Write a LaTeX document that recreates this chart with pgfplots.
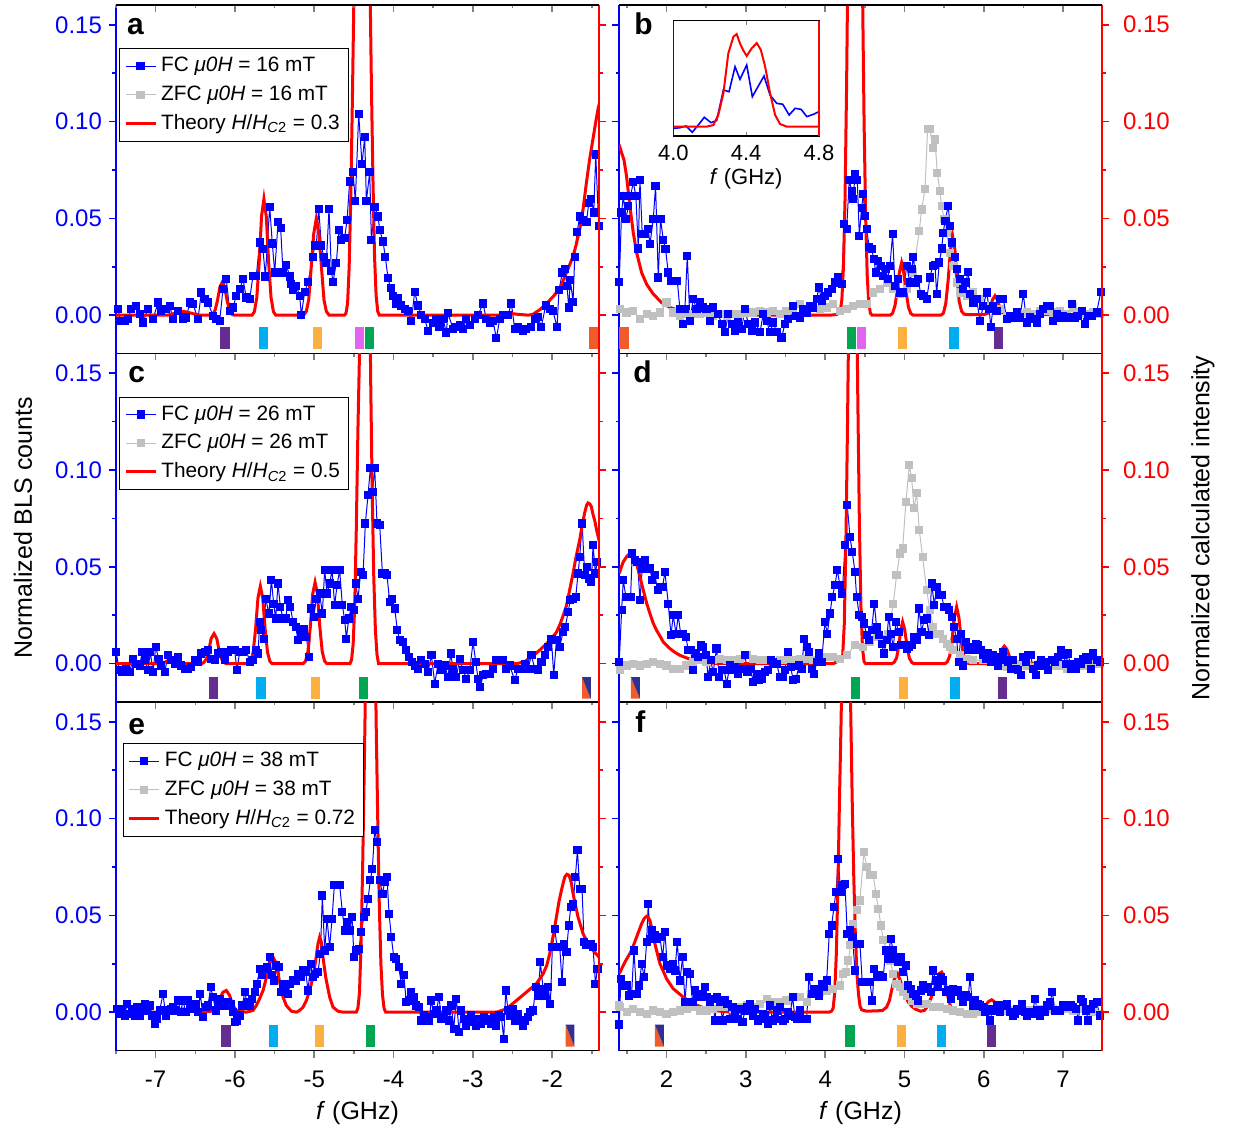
\documentclass[border=0pt]{standalone}
\usepackage{pgfplots}
\pgfplotsset{compat=1.18}
\usepackage{fontspec}
\setmainfont{Liberation Sans}
\definecolor{cpurple}{HTML}{662D91}
\definecolor{ccyan}{HTML}{00AEEF}
\definecolor{corange}{HTML}{FBB040}
\definecolor{cmagenta}{HTML}{E066F0}
\definecolor{cgreen}{HTML}{00A651}
\definecolor{credor}{HTML}{F15A29}
\definecolor{cnavy}{HTML}{2E3192}
\definecolor{cgrey}{HTML}{C0C0C0}
\tikzset{
  fc/.style={draw=blue, line width=0.5pt, mark=square*, mark size=1.8pt, mark options={fill=blue, draw=blue, solid}},
  zfc/.style={draw=cgrey, line width=0.5pt, mark=square*, mark size=1.8pt, mark options={fill=cgrey, draw=cgrey, solid}},
  th/.style={draw=red, line width=1.5pt},
}
\pgfplotsset{
  base/.style={
    scale only axis, width=241.5pt, height=174.25pt,
    ymin=-0.0198, ymax=0.1602,
    ytick={0,0.05,0.1,0.15}, minor ytick={0.025,0.075,0.125},
    tick align=outside, major tick length=3.5pt, minor tick length=1.75pt,
    scaled y ticks=false,
    /pgf/number format/assume math mode=true,
    yticklabel style={/pgf/number format/fixed,/pgf/number format/fixed zerofill,/pgf/number format/precision=2},
    tick label style={font=\fontsize{12}{14}\selectfont},
    axis line style={line width=0.8pt},
    tick style={line width=0.8pt},
    clip=true,
  },
  leftx/.style={xmin=-7.5, xmax=-1.41, xtick={-7,-6,-5,-4,-3,-2}, minor xtick={-7.5,-6.5,-5.5,-4.5,-3.5,-2.5,-1.5}},
  rightx/.style={xmin=1.4, xmax=7.49, xtick={2,3,4,5,6,7}, minor xtick={1.5,2.5,3.5,4.5,5.5,6.5}},
  mainax/.style={base, axis x line*=bottom, axis y line*=left, y axis line style={blue}, ytick style={blue}, yticklabel style={blue}, xticklabel style={yshift=-3pt}, xlabel style={font=\fontsize{12.5}{14}\selectfont}},
  overax/.style={base, axis x line=none, axis y line*=right, y axis line style={red}, ytick style={red}, yticklabel style={red, xshift=3.5pt}},
  topax/.style={base, axis x line*=top, axis y line=none, tick align=inside, xticklabels={}},
  leg/.style={legend style={at={(#1)}, anchor=north west, draw=black, line width=0.5pt, fill=white, font=\fontsize{10.4}{12.6}\selectfont, inner sep=2.3pt, row sep=1.5pt},
    legend cell align=left,
    legend image code/.code={\draw[mark repeat=2,mark phase=2,##1] plot coordinates {(0pt,0pt) (7.5pt,0pt) (15pt,0pt)};}},
}
\newcommand{\pbar}[5]{\addplot[fill=#1, draw=none, forget plot] coordinates {(#2,#4) (#3,#4) (#3,#5) (#2,#5)};}
\newcommand{\sbar}[4]{\addplot[fill=credor, draw=none, forget plot] coordinates {(#1,#4) (#1,#3) (#2,#3)};
\addplot[fill=cnavy, draw=none, forget plot] coordinates {(#1,#4) (#2,#4) (#2,#3)};}
\begin{document}
\begin{tikzpicture}
\useasboundingbox (0,0) rectangle (618pt,-563.5pt);
%%%%%%%%%%%%%%%%%%%% panel a
\begin{axis}[mainax, leftx, at={(58pt,-2.5pt)}, anchor=north west, xticklabels={}, leg={0.0062,0.8758}]
\pbar{cpurple}{-6.193}{-6.067}{-0.0175}{-0.0063}
\pbar{ccyan}{-5.697}{-5.583}{-0.0175}{-0.0063}
\pbar{corange}{-5.016}{-4.898}{-0.0175}{-0.0063}
\pbar{cmagenta}{-4.490}{-4.373}{-0.0175}{-0.0063}
\pbar{cgreen}{-4.364}{-4.251}{-0.0175}{-0.0063}
\pbar{credor}{-1.540}{-1.422}{-0.0175}{-0.0063}
\addlegendimage{fc}\addlegendentry{FC \textit{μ0H} = 16 mT}
\addlegendimage{zfc}\addlegendentry{ZFC \textit{μ0H} = 16 mT}
\addlegendimage{th}\addlegendentry{Theory \textit{H}/\textit{H}\textsubscript{\textit{C}2} = 0.3}
\addplot[fc, forget plot] table {
-7.475 0.0031
-7.445 -0.0029
-7.391 -0.0029
-7.349 -0.0020
-7.307 0.0031
-7.244 0.0048
-7.202 0.0005
-7.160 -0.0038
-7.097 0.0031
-7.033 -0.0020
-6.970 0.0065
-6.928 0.0023
-6.865 0.0031
-6.823 0.0048
-6.781 -0.0020
-6.718 0.0023
-6.655 -0.0020
-6.613 -0.0012
-6.571 0.0065
-6.529 0.0057
-6.466 -0.0020
-6.424 0.0117
-6.382 0.0083
-6.340 0.0065
-6.277 -0.0003
-6.235 -0.0020
-6.193 -0.0029
-6.151 0.0134
-6.109 0.0186
-6.067 0.0023
-6.025 0.0040
-5.983 0.0100
-5.941 0.0134
-5.899 0.0186
-5.857 0.0091
-5.815 0.0083
-5.773 0.0203
-5.731 0.0203
-5.689 0.0375
-5.647 0.0340
-5.617 0.0200
-5.562 0.0560
-5.529 0.0370
-5.499 0.0220
-5.457 0.0480
-5.424 0.0450
-5.394 0.0220
-5.352 0.0260
-5.310 0.0200
-5.290 0.0160
-5.268 0.0130
-5.226 0.0150
-5.184 0.0100
-5.163 0.0000
-5.121 0.0120
-5.079 0.0170
-5.016 0.0300
-4.995 0.0360
-4.974 0.0360
-4.944 0.0550
-4.911 0.0360
-4.881 0.0300
-4.848 0.0270
-4.814 0.0550
-4.785 0.0230
-4.764 0.0170
-4.722 0.0270
-4.688 0.0440
-4.659 0.0390
-4.617 0.0400
-4.587 0.0490
-4.554 0.0690
-4.512 0.0740
-4.482 0.0590
-4.440 0.1040
-4.398 0.0780
-4.364 0.0920
-4.343 0.0590
-4.301 0.0740
-4.280 0.0390
-4.238 0.0560
-4.196 0.0510
-4.175 0.0440
-4.133 0.0380
-4.104 0.0300
-4.070 0.0190
-4.037 0.0140
-4.007 0.0100
-3.974 0.0060
-3.944 0.0090
-3.902 0.0050
-3.860 0.0030
-3.818 0.0020
-3.776 -0.0030
-3.734 0.0120
-3.692 0.0050
-3.650 0.0000
-3.608 -0.0020
-3.566 -0.0080
-3.503 -0.0040
-3.460 -0.0020
-3.420 -0.0060
-3.377 -0.0020
-3.335 -0.0090
-3.314 0.0010
-3.251 -0.0070
-3.209 -0.0060
-3.166 -0.0050
-3.124 -0.0070
-3.082 -0.0020
-3.040 -0.0050
-2.977 -0.0020
-2.935 0.0000
-2.873 0.0060
-2.830 -0.0020
-2.788 -0.0040
-2.746 -0.0030
-2.704 -0.0120
-2.662 -0.0020
-2.620 0.0000
-2.557 0.0000
-2.515 0.0060
-2.473 -0.0070
-2.431 -0.0060
-2.368 -0.0080
-2.326 -0.0070
-2.263 -0.0060
-2.221 -0.0020
-2.179 -0.0010
-2.137 -0.0060
-2.082 0.0050
-2.032 0.0030
-1.990 0.0020
-1.939 -0.0060
-1.914 0.0130
-1.872 0.0220
-1.842 0.0240
-1.813 0.0150
-1.792 0.0040
-1.771 0.0180
-1.737 0.0070
-1.716 0.0300
-1.686 0.0430
-1.653 0.0510
-1.611 0.0490
-1.568 0.0480
-1.539 0.0580
-1.506 0.0600
-1.476 0.0530
-1.451 0.0830
-1.414 0.0460
};
\addplot[th, forget plot] table {
-7.50 0
-6.85 0
-6.75 0.0010
-6.65 0.0020
-6.55 0.0010
-6.45 0
-6.31 0
-6.28 0.0005
-6.25 0.0026
-6.22 0.0077
-6.19 0.0145
-6.16 0.0170
-6.13 0.0145
-6.10 0.0077
-6.07 0.0026
-6.04 0.0005
-6.01 0
-5.785 0
-5.755 0.0018
-5.725 0.0090
-5.695 0.0270
-5.665 0.0510
-5.635 0.0600
-5.605 0.0510
-5.575 0.0270
-5.545 0.0090
-5.515 0.0018
-5.485 0
-5.134 0
-5.100 0.0020
-5.070 0.0080
-5.040 0.0240
-5.007 0.0420
-4.974 0.0500
-4.941 0.0420
-4.908 0.0240
-4.878 0.0080
-4.848 0.0020
-4.814 0
-4.62 0
-4.60 0.001
-4.58 0.006
-4.56 0.025
-4.54 0.060
-4.52 0.110
-4.50 0.165
-4.47 0.250
-4.40 0.350
-4.33 0.300
-4.30 0.180
-4.28 0.120
-4.26 0.070
-4.24 0.030
-4.22 0.010
-4.20 0.002
-4.18 0
-2.60 0
-2.54 0.0010
-2.45 0.0005
-2.30 0
-2.24 0.0005
-2.15 0.0030
-2.07 0.0060
-1.98 0.0100
-1.90 0.0140
-1.86 0.0180
-1.82 0.0220
-1.78 0.0260
-1.74 0.0300
-1.70 0.0360
-1.65 0.0450
-1.61 0.0550
-1.57 0.0680
-1.53 0.0800
-1.49 0.0900
-1.45 0.1000
-1.42 0.1070
-1.40 0.1100
};
\end{axis}
\begin{axis}[overax, leftx, at={(58pt,-2.5pt)}, anchor=north west, yticklabels={}]
\end{axis}
\begin{axis}[topax, leftx, at={(58pt,-2.5pt)}, anchor=north west]
\end{axis}
%%%%%%%%%%%%%%%%%%%% panel b
\begin{axis}[mainax, rightx, at={(309.5pt,-2.5pt)}, anchor=north west, xticklabels={}, yticklabels={}]
\pbar{credor}{1.403}{1.525}{-0.0175}{-0.0063}
\pbar{cgreen}{4.270}{4.388}{-0.0175}{-0.0063}
\pbar{cmagenta}{4.396}{4.510}{-0.0175}{-0.0063}
\pbar{corange}{4.913}{5.031}{-0.0175}{-0.0063}
\pbar{ccyan}{5.565}{5.686}{-0.0175}{-0.0063}
\pbar{cpurple}{6.132}{6.246}{-0.0175}{-0.0063}
\addplot[zfc, forget plot] table {
1.410 0.0031
1.495 0.0014
1.580 0.0023
1.664 -0.0020
1.748 0.0005
1.832 -0.0003
1.916 0.0014
2.000 0.0065
2.084 0.0014
2.168 -0.0003
2.252 0.0005
2.336 0.0005
2.420 0.0005
2.504 0.0014
2.589 -0.0003
2.673 0.0005
2.757 -0.0003
2.841 0.0005
2.925 0.0005
3.009 0.0014
3.093 0.0014
3.177 0.0023
3.261 0.0014
3.345 0.0023
3.429 0.0005
3.513 0.0023
3.597 0.0031
3.682 0.0057
3.766 0.0031
3.850 0.0040
3.934 0.0031
4.018 0.0040
4.102 0.0057
4.186 0.0023
4.270 0.0031
4.354 0.0048
4.438 0.0057
4.522 0.0057
4.606 0.0117
4.690 0.0134
4.774 0.0169
4.858 0.0134
4.942 0.0109
5.027 0.0134
5.111 0.0220
5.186 0.0435
5.216 0.0546
5.258 0.0650
5.291 0.0960
5.321 0.0960
5.354 0.0865
5.384 0.0907
5.413 0.0736
5.447 0.0640
5.468 0.0564
5.502 0.0495
5.531 0.0426
5.573 0.0323
5.615 0.0255
5.657 0.0169
5.699 0.0117
5.783 0.0100
5.867 0.0117
5.951 0.0083
6.035 0.0048
6.119 0.0048
6.204 0.0031
6.288 -0.0003
6.372 -0.0003
6.456 0.0005
6.540 0.0014
6.624 0.0005
6.708 0.0023
6.792 0.0023
6.876 0.0014
6.960 0.0023
7.044 0.0005
7.128 0.0040
7.212 0.0014
7.296 0.0005
7.380 0.0014
7.464 0.0005
};
\addplot[fc, forget plot] table {
1.403 0.0170
1.432 0.0530
1.454 0.0615
1.487 0.0495
1.517 0.0564
1.546 0.0615
1.580 0.0687
1.613 0.0615
1.643 0.0344
1.664 0.0700
1.693 0.0420
1.727 0.0420
1.769 0.0444
1.790 0.0366
1.832 0.0495
1.861 0.0667
1.895 0.0194
1.924 0.0495
1.958 0.0390
1.987 0.0340
2.021 0.0220
2.063 0.0177
2.105 0.0177
2.135 0.0177
2.168 0.0031
2.202 -0.0046
2.231 0.0031
2.261 0.0306
2.294 -0.0029
2.336 0.0083
2.378 0.0031
2.420 0.0065
2.462 0.0040
2.504 0.0031
2.546 -0.0029
2.589 0.0040
2.652 0.0005
2.694 -0.0046
2.736 -0.0089
2.778 0.0005
2.820 -0.0046
2.862 -0.0080
2.904 -0.0038
2.946 -0.0072
2.988 0.0031
3.030 -0.0046
3.072 -0.0080
3.114 -0.0038
3.177 -0.0089
3.219 0.0005
3.261 -0.0029
3.303 -0.0089
3.345 -0.0038
3.387 -0.0089
3.450 -0.0115
3.492 -0.0046
3.534 -0.0020
3.597 0.0048
3.639 -0.0003
3.682 -0.0012
3.724 0.0031
3.766 0.0014
3.808 0.0048
3.850 0.0040
3.892 0.0083
3.921 0.0143
3.955 0.0074
3.997 0.0100
4.039 0.0117
4.081 0.0134
4.123 0.0169
4.165 0.0194
4.207 0.0160
4.240 0.0470
4.270 0.0444
4.304 0.0700
4.333 0.0640
4.354 0.0600
4.375 0.0727
4.404 0.0700
4.430 0.0410
4.459 0.0555
4.480 0.0624
4.501 0.0512
4.522 0.0444
4.556 0.0350
4.585 0.0340
4.615 0.0290
4.636 0.0220
4.669 0.0280
4.699 0.0255
4.732 0.0203
4.762 0.0237
4.787 0.0186
4.816 0.0255
4.850 0.0420
4.879 0.0151
4.913 0.0186
4.942 0.0117
4.985 0.0117
5.027 0.0255
5.069 0.0169
5.090 0.0237
5.111 0.0300
5.144 0.0169
5.174 0.0186
5.203 0.0109
5.237 0.0100
5.279 0.0083
5.321 0.0194
5.354 0.0255
5.384 0.0260
5.405 0.0109
5.439 0.0272
5.468 0.0344
5.489 0.0426
5.510 0.0487
5.552 0.0564
5.573 0.0460
5.602 0.0375
5.636 0.0300
5.666 0.0237
5.699 0.0186
5.741 0.0134
5.771 0.0169
5.804 0.0224
5.825 0.0109
5.867 0.0065
5.909 0.0083
5.951 -0.0029
5.993 0.0048
6.035 0.0117
6.069 0.0031
6.086 -0.0063
6.119 0.0048
6.162 0.0023
6.204 0.0083
6.246 0.0083
6.288 -0.0020
6.330 -0.0003
6.372 -0.0012
6.414 0.0014
6.456 -0.0012
6.498 0.0109
6.540 -0.0038
6.582 -0.0012
6.624 -0.0020
6.666 -0.0038
6.708 0.0005
6.750 0.0031
6.792 0.0048
6.834 0.0048
6.876 -0.0029
6.918 0.0005
6.960 -0.0012
7.002 -0.0003
7.044 -0.0012
7.107 0.0057
7.149 -0.0012
7.191 -0.0003
7.233 0.0023
7.275 -0.0046
7.317 -0.0003
7.359 -0.0003
7.422 0.0014
7.475 0.0120
};
\addplot[th, forget plot] table {
1.403 0.0880
1.432 0.0839
1.462 0.0804
1.495 0.0718
1.537 0.0564
1.580 0.0426
1.622 0.0323
1.685 0.0220
1.748 0.0160
1.832 0.0109
1.937 0.0065
2.042 0.0040
2.210 0.0017
2.420 0.0007
2.840 0.0002
3.260 0
4.060 0
4.144 0.0003
4.17 0.001
4.19 0.002
4.21 0.008
4.23 0.025
4.25 0.060
4.27 0.120
4.29 0.200
4.35 0.400
4.40 0.340
4.45 0.300
4.47 0.170
4.49 0.100
4.51 0.050
4.53 0.020
4.55 0.006
4.57 0.001
4.59 0
4.82 0
4.85 0.0010
4.88 0.0050
4.91 0.0130
4.935 0.0220
4.963 0.0270
4.99 0.0220
5.02 0.0120
5.05 0.0040
5.08 0.0008
5.11 0
5.46 0
5.49 0.0010
5.52 0.0060
5.55 0.0180
5.58 0.0340
5.606 0.0410
5.635 0.0340
5.66 0.0190
5.69 0.0070
5.72 0.0020
5.75 0.0005
5.80 0.0003
6.00 0.0003
6.05 0.0010
6.08 0.0040
6.11 0.0080
6.14 0.0100
6.17 0.0080
6.20 0.0040
6.23 0.0015
6.28 0.0003
6.50 0.0003
6.62 0.0018
6.75 0.0003
7.10 0.0003
7.23 0.0012
7.35 0.0003
7.50 0
};
\end{axis}
\begin{axis}[overax, rightx, at={(309.5pt,-2.5pt)}, anchor=north west]
\end{axis}
\begin{axis}[topax, rightx, at={(309.5pt,-2.5pt)}, anchor=north west]
\end{axis}
%%%%%%%%%%%%%%%%%%%% inset
\begin{axis}[scale only axis, width=72.85pt, height=57.65pt, at={(336.65pt,-10.35pt)}, anchor=north west,
  xmin=4, xmax=4.8, ymin=0, ymax=1, ytick=\empty, xtick={4,4.4,4.8}, xticklabels={4.0,4.4,4.8},
  tick align=inside, major tick length=2pt, axis line style={line width=0.8pt}, tick style={line width=0.6pt},
  tick label style={font=\fontsize{11}{13}\selectfont}, xticklabel style={yshift=-1pt},
  xlabel={\textit{f} (GHz)}, xlabel style={font=\fontsize{11}{13}\selectfont, yshift=3pt}]
\addplot[blue, line width=0.8pt] table {
4.000 0.066
4.037 0.072
4.070 0.087
4.104 0.032
4.137 0.095
4.170 0.162
4.207 0.116
4.238 0.133
4.275 0.399
4.306 0.384
4.339 0.601
4.366 0.491
4.403 0.616
4.434 0.341
4.467 0.434
4.498 0.520
4.531 0.355
4.568 0.283
4.601 0.275
4.636 0.182
4.669 0.240
4.702 0.231
4.733 0.168
4.769 0.188
4.800 0.211
};
\addplot[red, line width=1pt] table {
4.000 0.081
4.183 0.081
4.220 0.095
4.247 0.182
4.275 0.370
4.302 0.717
4.330 0.861
4.348 0.884
4.366 0.803
4.385 0.740
4.403 0.694
4.430 0.760
4.458 0.806
4.480 0.749
4.504 0.604
4.531 0.373
4.559 0.182
4.586 0.104
4.623 0.081
4.800 0.081
};
\end{axis}
\begin{axis}[scale only axis, width=72.85pt, height=57.65pt, at={(336.65pt,-10.35pt)}, anchor=north west,
  xmin=4, xmax=4.8, ymin=0, ymax=1, axis x line=none, axis y line*=left, y axis line style={blue, line width=0.8pt}, ytick=\empty]
\end{axis}
\begin{axis}[scale only axis, width=72.85pt, height=57.65pt, at={(336.65pt,-10.35pt)}, anchor=north west,
  xmin=4, xmax=4.8, ymin=0, ymax=1, axis x line=none, axis y line*=right, y axis line style={red, line width=0.8pt}, ytick=\empty]
\end{axis}
%%%%%%%%%%%%%%%%%%%% panel c
\begin{axis}[mainax, leftx, at={(58pt,-176.75pt)}, anchor=north west, xticklabels={}, leg={0.0068,0.876}]
\pbar{cpurple}{-6.327}{-6.214}{-0.0181}{-0.0069}
\pbar{ccyan}{-5.730}{-5.613}{-0.0181}{-0.0069}
\pbar{corange}{-5.041}{-4.923}{-0.0181}{-0.0069}
\pbar{cgreen}{-4.436}{-4.318}{-0.0181}{-0.0069}
\sbar{-1.624}{-1.514}{-0.0181}{-0.0069}
\addlegendimage{fc}\addlegendentry{FC \textit{μ0H} = 26 mT}
\addlegendimage{zfc}\addlegendentry{ZFC \textit{μ0H} = 26 mT}
\addlegendimage{th}\addlegendentry{Theory \textit{H}/\textit{H}\textsubscript{\textit{C}2} = 0.5}
\addplot[fc, forget plot] table {
-7.496 0.0060
-7.462 -0.0034
-7.420 -0.0043
-7.378 -0.0026
-7.328 -0.0043
-7.286 0.0026
-7.244 0.0000
-7.202 -0.0009
-7.168 0.0060
-7.130 0.0017
-7.097 -0.0034
-7.067 0.0060
-7.033 -0.0043
-7.000 0.0086
-6.962 0.0026
-6.928 -0.0009
-6.886 -0.0043
-6.844 0.0043
-6.802 0.0017
-6.760 0.0000
-6.718 0.0034
-6.676 -0.0009
-6.634 -0.0026
-6.592 -0.0026
-6.550 -0.0017
-6.508 0.0017
-6.466 0.0009
-6.424 0.0052
-6.382 0.0060
-6.340 0.0069
-6.298 0.0026
-6.256 0.0017
-6.214 0.0052
-6.172 0.0060
-6.130 0.0017
-6.088 0.0060
-6.046 0.0069
-6.004 0.0069
-5.974 -0.0034
-5.941 0.0060
-5.898 0.0060
-5.856 0.0069
-5.814 0.0009
-5.772 0.0017
-5.739 0.0069
-5.709 0.0052
-5.688 0.0216
-5.667 0.0172
-5.638 0.0129
-5.613 0.0336
-5.571 0.0259
-5.541 0.0434
-5.512 0.0310
-5.487 0.0233
-5.457 0.0414
-5.428 0.0293
-5.394 0.0233
-5.360 0.0233
-5.331 0.0328
-5.302 0.0293
-5.268 0.0216
-5.234 0.0190
-5.205 0.0121
-5.171 0.0155
-5.133 0.0181
-5.100 0.0138
-5.066 0.0034
-5.037 0.0285
-5.007 0.0241
-4.974 0.0336
-4.932 0.0362
-4.898 0.0259
-4.869 0.0483
-4.839 0.0362
-4.806 0.0414
-4.776 0.0483
-4.743 0.0302
-4.713 0.0405
-4.680 0.0483
-4.646 0.0302
-4.616 0.0224
-4.595 0.0129
-4.566 0.0233
-4.532 0.0293
-4.503 0.0276
-4.478 0.0414
-4.448 0.0336
-4.415 0.0474
-4.385 0.0457
-4.356 0.0724
-4.322 0.0871
-4.293 0.1009
-4.267 0.0888
-4.238 0.1009
-4.209 0.0724
-4.175 0.0716
-4.141 0.0466
-4.112 0.0466
-4.083 0.0457
-4.049 0.0319
-4.015 0.0336
-3.986 0.0285
-3.952 0.0172
-3.923 0.0121
-3.881 0.0112
-3.839 0.0069
-3.805 0.0034
-3.763 0.0009
-3.725 -0.0009
-3.692 -0.0026
-3.650 0.0017
-3.608 0.0000
-3.566 -0.0043
-3.523 0.0043
-3.481 -0.0103
-3.439 0.0000
-3.397 -0.0034
-3.355 -0.0009
-3.313 -0.0069
-3.280 0.0052
-3.250 -0.0026
-3.208 -0.0069
-3.166 0.0026
-3.124 -0.0034
-3.082 -0.0078
-3.040 -0.0034
-2.998 0.0112
-2.964 0.0009
-2.935 -0.0078
-2.906 -0.0121
-2.872 -0.0060
-2.830 -0.0052
-2.788 -0.0052
-2.746 -0.0026
-2.704 0.0017
-2.662 0.0017
-2.620 0.0017
-2.578 -0.0026
-2.536 -0.0009
-2.473 -0.0086
-2.431 -0.0026
-2.389 -0.0026
-2.347 0.0000
-2.305 -0.0026
-2.262 0.0043
-2.220 -0.0026
-2.178 -0.0034
-2.136 0.0009
-2.094 0.0043
-2.052 0.0086
-2.010 0.0129
-1.981 -0.0060
-1.947 0.0121
-1.905 0.0086
-1.863 0.0164
-1.834 0.0190
-1.800 0.0267
-1.771 0.0328
-1.737 0.0336
-1.703 0.0345
-1.674 0.0466
-1.653 0.0552
-1.623 0.0724
-1.590 0.0457
-1.560 0.0500
-1.535 0.0440
-1.506 0.0422
-1.485 0.0612
-1.455 0.0466
-1.434 0.0526
};
\addplot[th, forget plot] table {
-7.50 0
-6.95 0
-6.88 0.0008
-6.80 0.0026
-6.72 0.0010
-6.62 0
-6.42 0
-6.39 0.0007
-6.36 0.0025
-6.33 0.0070
-6.30 0.0130
-6.264 0.0155
-6.23 0.0130
-6.20 0.0070
-6.17 0.0025
-6.14 0.0007
-6.11 0
-5.83 0
-5.80 0.0012
-5.77 0.0060
-5.74 0.0180
-5.71 0.0340
-5.68 0.0400
-5.65 0.0340
-5.62 0.0180
-5.59 0.0060
-5.56 0.0012
-5.53 0
-5.14 0
-5.11 0.0013
-5.08 0.0063
-5.05 0.0190
-5.02 0.0360
-4.99 0.0420
-4.96 0.0360
-4.93 0.0190
-4.90 0.0063
-4.87 0.0013
-4.84 0
-4.55 0
-4.53 0.002
-4.51 0.010
-4.49 0.030
-4.47 0.070
-4.45 0.120
-4.43 0.160
-4.40 0.250
-4.36 0.350
-4.31 0.250
-4.29 0.150
-4.27 0.090
-4.25 0.045
-4.23 0.018
-4.21 0.005
-4.19 0
-2.45 0
-2.35 0.0010
-2.24 0.0040
-2.13 0.0080
-2.03 0.0120
-1.95 0.0160
-1.905 0.0200
-1.86 0.0250
-1.82 0.0300
-1.78 0.0380
-1.74 0.0460
-1.70 0.0550
-1.653 0.0640
-1.62 0.0720
-1.59 0.0780
-1.565 0.0820
-1.548 0.0830
-1.525 0.0825
-1.506 0.0810
-1.485 0.0770
-1.464 0.0740
-1.44 0.0690
-1.40 0.0620
};
\end{axis}
\begin{axis}[overax, leftx, at={(58pt,-176.75pt)}, anchor=north west, yticklabels={}]
\end{axis}
%%%%%%%%%%%%%%%%%%%% panel d
\begin{axis}[mainax, rightx, at={(309.5pt,-176.75pt)}, anchor=north west, xticklabels={}, yticklabels={}]
\sbar{1.550}{1.664}{-0.0181}{-0.0069}
\pbar{cgreen}{4.320}{4.434}{-0.0181}{-0.0069}
\pbar{corange}{4.930}{5.043}{-0.0181}{-0.0069}
\pbar{ccyan}{5.577}{5.695}{-0.0181}{-0.0069}
\pbar{cpurple}{6.183}{6.296}{-0.0181}{-0.0069}
\addplot[zfc, forget plot] table {
1.411 -0.0034
1.496 -0.0009
1.580 0.0000
1.664 -0.0009
1.748 0.0000
1.832 0.0009
1.916 0.0000
2.000 -0.0009
2.084 -0.0026
2.168 -0.0026
2.252 -0.0009
2.336 0.0009
2.420 0.0017
2.504 0.0009
2.588 0.0017
2.673 0.0026
2.757 0.0017
2.841 0.0017
2.925 0.0026
3.009 0.0043
3.093 0.0026
3.177 0.0017
3.261 0.0017
3.345 0.0009
3.429 0.0017
3.513 0.0017
3.597 0.0017
3.682 0.0026
3.766 0.0026
3.850 0.0017
3.934 0.0026
4.018 0.0034
4.102 0.0034
4.186 0.0026
4.270 0.0043
4.375 0.0095
4.480 0.0086
4.564 0.0112
4.648 0.0138
4.732 0.0129
4.795 0.0155
4.858 0.0310
4.900 0.0457
4.942 0.0569
4.976 0.0595
5.018 0.0836
5.060 0.1026
5.090 0.0957
5.119 0.0802
5.153 0.0880
5.186 0.0690
5.228 0.0552
5.279 0.0379
5.321 0.0276
5.363 0.0190
5.405 0.0155
5.447 0.0155
5.489 0.0129
5.531 0.0103
5.573 0.0086
5.615 0.0069
5.699 0.0043
5.783 0.0026
5.867 0.0017
5.993 0.0017
6.119 0.0009
6.204 -0.0009
6.288 -0.0017
6.372 -0.0009
6.456 0.0000
6.540 -0.0009
6.624 -0.0017
6.708 0.0000
6.792 0.0000
6.876 -0.0009
6.960 -0.0009
7.044 -0.0026
7.128 -0.0017
7.212 -0.0009
7.296 -0.0009
7.380 0.0000
7.464 0.0000
};
\addplot[fc, forget plot] table {
1.403 0.0009
1.433 0.0276
1.454 0.0431
1.487 0.0345
1.517 0.0345
1.546 0.0345
1.567 0.0569
1.601 0.0534
1.634 0.0526
1.664 0.0328
1.693 0.0491
1.727 0.0534
1.760 0.0491
1.790 0.0491
1.819 0.0431
1.853 0.0457
1.887 0.0379
1.916 0.0397
1.950 0.0397
1.979 0.0474
2.021 0.0310
2.055 0.0147
2.084 0.0250
2.118 0.0155
2.147 0.0250
2.177 0.0155
2.210 0.0155
2.244 0.0138
2.273 0.0069
2.303 0.0069
2.336 -0.0034
2.366 0.0052
2.399 0.0034
2.429 0.0095
2.462 0.0086
2.496 0.0043
2.525 -0.0069
2.555 0.0017
2.588 -0.0043
2.630 0.0078
2.664 -0.0069
2.694 -0.0034
2.727 -0.0034
2.757 -0.0103
2.799 -0.0009
2.832 -0.0034
2.862 -0.0017
2.904 -0.0052
2.946 -0.0026
2.988 0.0043
3.021 -0.0043
3.059 -0.0026
3.093 -0.0095
3.135 -0.0052
3.169 -0.0086
3.206 -0.0078
3.240 -0.0043
3.282 -0.0034
3.312 0.0017
3.345 0.0009
3.387 0.0000
3.429 -0.0069
3.463 -0.0069
3.492 -0.0034
3.526 0.0060
3.564 -0.0017
3.597 -0.0086
3.631 -0.0078
3.673 -0.0009
3.707 -0.0026
3.732 0.0129
3.766 0.0086
3.799 0.0060
3.829 -0.0026
3.862 -0.0052
3.892 0.0009
3.921 0.0052
3.955 0.0009
3.997 0.0216
4.026 0.0155
4.060 0.0259
4.089 0.0345
4.123 0.0405
4.152 0.0483
4.186 0.0405
4.215 0.0362
4.249 0.0612
4.278 0.0819
4.312 0.0655
4.341 0.0578
4.375 0.0474
4.396 0.0345
4.430 0.0250
4.459 0.0241
4.489 0.0207
4.522 0.0147
4.556 0.0121
4.585 0.0172
4.619 0.0310
4.648 0.0190
4.682 0.0147
4.711 0.0103
4.741 0.0052
4.774 0.0121
4.800 0.0241
4.829 0.0155
4.858 0.0086
4.892 0.0216
4.926 0.0164
4.963 0.0095
4.993 0.0095
5.027 0.0078
5.060 0.0086
5.090 0.0095
5.119 0.0138
5.153 0.0121
5.182 0.0285
5.216 0.0164
5.245 0.0224
5.279 0.0233
5.308 0.0147
5.342 0.0414
5.376 0.0302
5.405 0.0397
5.439 0.0353
5.468 0.0353
5.497 0.0293
5.531 0.0293
5.565 0.0276
5.594 0.0241
5.624 0.0190
5.657 0.0129
5.682 0.0009
5.712 0.0155
5.741 -0.0009
5.771 0.0112
5.804 0.0069
5.834 0.0086
5.867 0.0069
5.901 0.0103
5.930 0.0095
5.964 0.0069
5.993 0.0043
6.027 0.0026
6.056 0.0052
6.090 0.0009
6.119 0.0043
6.153 0.0034
6.183 -0.0009
6.216 0.0017
6.246 0.0060
6.279 0.0017
6.309 0.0009
6.342 -0.0026
6.372 0.0017
6.405 -0.0026
6.435 -0.0034
6.464 -0.0060
6.498 0.0034
6.532 0.0009
6.561 0.0043
6.590 0.0043
6.624 -0.0026
6.658 -0.0060
6.687 -0.0009
6.716 0.0017
6.750 -0.0009
6.784 0.0009
6.813 -0.0034
6.855 0.0017
6.897 0.0009
6.939 0.0034
6.969 0.0069
7.002 0.0043
7.036 0.0000
7.065 0.0052
7.095 -0.0026
7.128 0.0000
7.162 -0.0026
7.191 0.0009
7.225 0.0000
7.254 0.0026
7.288 0.0034
7.317 0.0017
7.347 -0.0026
7.380 0.0052
7.422 0.0017
7.464 0.0009
};
\addplot[th, forget plot] table {
1.403 0.0466
1.43 0.0500
1.454 0.0526
1.495 0.0552
1.537 0.0570
1.56 0.0568
1.58 0.0555
1.61 0.0530
1.643 0.0483
1.675 0.0430
1.706 0.0380
1.75 0.0310
1.79 0.0259
1.83 0.0210
1.874 0.0172
1.92 0.0140
1.958 0.0112
2.042 0.0078
2.10 0.0060
2.168 0.0043
2.25 0.0030
2.336 0.0017
2.504 0.0003
2.84 0
4.10 0
4.186 0.0017
4.20 0.002
4.22 0.004
4.24 0.020
4.26 0.060
4.28 0.120
4.30 0.190
4.35 0.350
4.39 0.220
4.41 0.140
4.43 0.075
4.45 0.030
4.47 0.008
4.49 0.001
4.51 0
4.84 0
4.87 0.0007
4.90 0.0030
4.93 0.0097
4.95 0.0170
4.976 0.0216
5.00 0.0180
5.03 0.0097
5.06 0.0030
5.09 0.0007
5.12 0
5.51 0
5.54 0.0010
5.57 0.0040
5.60 0.0130
5.63 0.0240
5.657 0.0293
5.685 0.0240
5.715 0.0130
5.745 0.0040
5.775 0.0010
5.81 0
6.12 0
6.16 0.0010
6.20 0.0040
6.23 0.0075
6.258 0.0090
6.29 0.0075
6.32 0.0040
6.36 0.0010
6.40 0
6.65 0.0002
6.79 0.0014
6.95 0.0002
7.50 0.0003
};
\end{axis}
\begin{axis}[overax, rightx, at={(309.5pt,-176.75pt)}, anchor=north west]
\end{axis}
%%%%%%%%%%%%%%%%%%%% panel e
\begin{axis}[mainax, leftx, at={(58pt,-351pt)}, anchor=north west, leg={0.0139,0.8815}, xlabel={\textit{f} (GHz)}]
\pbar{cpurple}{-6.172}{-6.054}{-0.0178}{-0.0064}
\pbar{ccyan}{-5.571}{-5.457}{-0.0178}{-0.0064}
\pbar{corange}{-4.990}{-4.877}{-0.0178}{-0.0064}
\pbar{cgreen}{-4.352}{-4.234}{-0.0178}{-0.0064}
\sbar{-1.830}{-1.720}{-0.0178}{-0.0064}
\addlegendimage{fc}\addlegendentry{FC \textit{μ0H} = 38 mT}
\addlegendimage{zfc}\addlegendentry{ZFC \textit{μ0H} = 38 mT}
\addlegendimage{th}\addlegendentry{Theory \textit{H}/\textit{H}\textsubscript{\textit{C}2} = 0.72}
\addplot[fc, forget plot] table {
-7.487 0.0017
-7.454 -0.0009
-7.420 0.0017
-7.391 -0.0017
-7.361 0.0043
-7.328 -0.0009
-7.294 0.0017
-7.265 -0.0017
-7.231 0.0026
-7.202 -0.0017
-7.168 0.0009
-7.139 0.0043
-7.105 0.0009
-7.075 0.0034
-7.042 -0.0017
-7.012 -0.0060
-6.983 -0.0034
-6.949 0.0009
-6.907 0.0095
-6.874 -0.0017
-6.844 0.0009
-6.811 0.0017
-6.781 0.0026
-6.748 0.0009
-6.718 0.0060
-6.685 0.0000
-6.655 0.0060
-6.621 0.0000
-6.592 0.0060
-6.563 0.0026
-6.529 0.0017
-6.495 0.0043
-6.466 0.0000
-6.437 0.0095
-6.403 -0.0026
-6.369 0.0026
-6.340 0.0034
-6.306 0.0129
-6.277 0.0078
-6.243 0.0009
-6.214 0.0034
-6.184 0.0069
-6.151 0.0052
-6.117 0.0034
-6.088 0.0052
-6.054 0.0043
-6.025 0.0000
-6.004 -0.0052
-5.974 -0.0043
-5.941 -0.0017
-5.907 0.0034
-5.877 0.0103
-5.848 0.0052
-5.814 0.0034
-5.785 0.0069
-5.751 0.0103
-5.722 0.0147
-5.688 0.0224
-5.659 0.0190
-5.625 0.0224
-5.592 0.0233
-5.562 0.0284
-5.533 0.0190
-5.508 0.0164
-5.478 0.0241
-5.449 0.0233
-5.423 0.0103
-5.394 0.0147
-5.365 0.0121
-5.331 0.0095
-5.302 0.0147
-5.268 0.0164
-5.234 0.0164
-5.205 0.0198
-5.171 0.0181
-5.142 0.0215
-5.108 0.0207
-5.079 0.0112
-5.045 0.0250
-5.016 0.0181
-4.986 0.0198
-4.953 0.0207
-4.923 0.0302
-4.898 0.0603
-4.869 0.0319
-4.839 0.0483
-4.806 0.0336
-4.776 0.0483
-4.747 0.0655
-4.713 0.0655
-4.680 0.0655
-4.646 0.0517
-4.616 0.0422
-4.587 0.0466
-4.554 0.0422
-4.524 0.0491
-4.499 0.0284
-4.469 0.0319
-4.436 0.0328
-4.406 0.0414
-4.377 0.0491
-4.352 0.0517
-4.322 0.0586
-4.293 0.0681
-4.268 0.0741
-4.238 0.0940
-4.209 0.0879
-4.175 0.0681
-4.141 0.0612
-4.112 0.0672
-4.083 0.0698
-4.057 0.0509
-4.028 0.0388
-3.998 0.0284
-3.965 0.0276
-3.935 0.0233
-3.902 0.0147
-3.872 0.0190
-3.839 0.0052
-3.805 0.0060
-3.776 0.0103
-3.746 0.0078
-3.713 0.0034
-3.683 0.0026
-3.650 -0.0043
-3.620 -0.0017
-3.587 -0.0026
-3.553 -0.0043
-3.524 0.0060
-3.494 -0.0009
-3.460 0.0009
-3.427 0.0078
-3.397 -0.0034
-3.368 -0.0026
-3.334 0.0009
-3.301 -0.0043
-3.271 0.0034
-3.242 -0.0086
-3.208 0.0069
-3.175 -0.0103
-3.145 0.0009
-3.116 -0.0034
-3.082 -0.0069
-3.048 -0.0052
-3.019 -0.0017
-2.990 -0.0034
-2.956 -0.0069
-2.927 -0.0034
-2.893 -0.0060
-2.864 -0.0026
-2.830 -0.0043
-2.796 -0.0034
-2.767 -0.0060
-2.737 -0.0026
-2.704 -0.0069
-2.674 -0.0017
-2.641 -0.0026
-2.611 -0.0138
-2.586 0.0112
-2.557 0.0009
-2.527 -0.0017
-2.494 0.0017
-2.464 -0.0043
-2.431 -0.0009
-2.401 -0.0043
-2.368 -0.0069
-2.338 -0.0043
-2.305 -0.0026
-2.275 0.0000
-2.241 0.0009
-2.208 0.0129
-2.178 0.0086
-2.149 0.0259
-2.115 0.0121
-2.086 0.0086
-2.052 0.0129
-2.023 0.0043
-1.998 0.0336
-1.968 0.0431
-1.939 0.0336
-1.905 0.0336
-1.876 0.0155
-1.850 0.0353
-1.821 0.0310
-1.791 0.0448
-1.766 0.0543
-1.737 0.0560
-1.708 0.0698
-1.682 0.0836
-1.653 0.0638
-1.624 0.0638
-1.598 0.0362
-1.569 0.0345
-1.539 0.0345
-1.514 0.0353
-1.485 0.0336
-1.455 0.0147
-1.430 0.0224
};
\addplot[th, forget plot] table {
-7.50 0
-6.85 0
-6.75 0.0008
-6.655 0.0017
-6.55 0.0008
-6.45 0
-6.30 0.0005
-6.235 0.0026
-6.193 0.0069
-6.151 0.0103
-6.109 0.0112
-6.067 0.0086
-6.025 0.0034
-5.983 0.0009
-5.857 0
-5.773 0.0009
-5.731 0.0034
-5.690 0.0069
-5.646 0.0112
-5.613 0.0164
-5.583 0.0216
-5.554 0.0259
-5.520 0.0284
-5.487 0.0259
-5.457 0.0198
-5.428 0.0138
-5.394 0.0078
-5.352 0.0034
-5.289 0.0005
-5.226 0
-5.184 0.0009
-5.142 0.0026
-5.100 0.0060
-5.058 0.0112
-5.016 0.0181
-4.982 0.0267
-4.953 0.0353
-4.932 0.0388
-4.911 0.0362
-4.890 0.0284
-4.856 0.0181
-4.806 0.0078
-4.764 0.0026
-4.701 0.0005
-4.638 0
-4.47 0
-4.45 0.002
-4.43 0.010
-4.41 0.035
-4.39 0.075
-4.37 0.125
-4.35 0.180
-4.29 0.350
-4.24 0.220
-4.22 0.150
-4.20 0.100
-4.18 0.055
-4.16 0.025
-4.14 0.009
-4.12 0.002
-4.10 0
-2.70 0
-2.578 0.0017
-2.452 0.0060
-2.326 0.0103
-2.200 0.0147
-2.115 0.0198
-2.070 0.0240
-2.031 0.0302
-1.990 0.0390
-1.947 0.0491
-1.915 0.0570
-1.884 0.0629
-1.860 0.0670
-1.842 0.0698
-1.815 0.0712
-1.787 0.0707
-1.760 0.0670
-1.737 0.0612
-1.700 0.0540
-1.674 0.0491
-1.640 0.0445
-1.611 0.0405
-1.580 0.0380
-1.548 0.0353
-1.485 0.0319
-1.400 0.0280
};
\end{axis}
\begin{axis}[overax, leftx, at={(58pt,-351pt)}, anchor=north west, yticklabels={}]
\end{axis}
%%%%%%%%%%%%%%%%%%%% panel f
\begin{axis}[mainax, rightx, at={(309.5pt,-351pt)}, anchor=north west, yticklabels={}, xlabel={\textit{f} (GHz)}]
\sbar{1.853}{1.966}{-0.0178}{-0.0064}
\pbar{cgreen}{4.253}{4.371}{-0.0178}{-0.0064}
\pbar{corange}{4.900}{5.018}{-0.0178}{-0.0064}
\pbar{ccyan}{5.405}{5.518}{-0.0178}{-0.0064}
\pbar{cpurple}{6.035}{6.153}{-0.0178}{-0.0064}
\addplot[zfc, forget plot] table {
1.400 0.0034
1.411 0.0026
1.496 0.0000
1.580 0.0017
1.664 0.0000
1.748 -0.0009
1.832 0.0009
1.916 0.0000
2.000 -0.0009
2.084 0.0000
2.168 0.0009
2.252 0.0017
2.336 0.0026
2.420 0.0009
2.504 0.0009
2.589 0.0017
2.673 0.0026
2.757 0.0026
2.841 0.0017
2.925 0.0026
3.009 0.0034
3.093 0.0026
3.177 0.0043
3.261 0.0069
3.345 0.0052
3.429 0.0052
3.513 0.0060
3.597 0.0078
3.682 0.0078
3.766 0.0052
3.850 0.0112
3.934 0.0103
4.018 0.0112
4.102 0.0121
4.186 0.0138
4.228 0.0198
4.261 0.0207
4.291 0.0267
4.320 0.0345
4.354 0.0457
4.396 0.0526
4.438 0.0577
4.488 0.0828
4.522 0.0750
4.564 0.0707
4.606 0.0707
4.640 0.0612
4.669 0.0534
4.703 0.0448
4.732 0.0371
4.774 0.0319
4.816 0.0267
4.858 0.0198
4.900 0.0147
4.942 0.0129
4.985 0.0103
5.027 0.0086
5.090 0.0060
5.153 0.0043
5.216 0.0043
5.279 0.0043
5.363 0.0026
5.447 0.0026
5.531 0.0017
5.615 0.0009
5.699 0.0000
5.783 -0.0009
5.867 -0.0009
5.951 0.0000
6.035 0.0000
6.119 0.0009
6.204 0.0000
6.288 0.0009
6.372 0.0009
6.456 0.0009
6.540 0.0009
6.624 0.0009
6.708 0.0017
6.792 0.0017
6.876 0.0017
6.960 0.0009
7.044 0.0017
7.128 0.0009
7.212 0.0017
7.296 0.0009
7.380 0.0000
7.464 -0.0009
};
\addplot[fc, forget plot] table {
1.403 -0.0064
1.424 0.0172
1.462 0.0138
1.496 0.0138
1.529 0.0086
1.559 0.0095
1.588 0.0319
1.622 0.0095
1.655 0.0138
1.685 0.0250
1.718 0.0181
1.748 0.0362
1.769 0.0560
1.790 0.0379
1.819 0.0422
1.853 0.0397
1.882 0.0379
1.916 0.0388
1.950 0.0284
1.979 0.0414
2.008 0.0241
2.042 0.0224
2.076 0.0250
2.105 0.0215
2.135 0.0362
2.168 0.0164
2.202 0.0284
2.231 0.0052
2.261 0.0207
2.294 0.0198
2.328 0.0052
2.357 0.0112
2.387 0.0086
2.420 0.0078
2.454 0.0095
2.483 0.0129
2.513 0.0078
2.546 0.0052
2.580 0.0069
2.610 -0.0043
2.639 0.0078
2.673 0.0052
2.706 -0.0043
2.736 0.0060
2.769 0.0043
2.799 -0.0034
2.832 0.0026
2.862 0.0009
2.891 -0.0034
2.925 0.0017
2.958 -0.0052
2.988 0.0009
3.021 0.0026
3.051 0.0043
3.085 -0.0017
3.114 0.0017
3.148 -0.0043
3.177 -0.0034
3.211 -0.0009
3.240 -0.0017
3.274 -0.0060
3.303 0.0034
3.337 -0.0043
3.366 -0.0034
3.396 0.0009
3.429 0.0026
3.463 -0.0043
3.492 -0.0034
3.526 0.0000
3.555 -0.0017
3.589 0.0078
3.618 -0.0026
3.648 -0.0034
3.682 0.0009
3.711 -0.0034
3.736 -0.0034
3.766 -0.0034
3.795 0.0181
3.829 0.0095
3.862 0.0121
3.892 0.0121
3.921 0.0086
3.955 0.0147
3.984 0.0129
4.018 0.0164
4.051 0.0405
4.081 0.0448
4.110 0.0543
4.136 0.0621
4.165 0.0793
4.194 0.0621
4.219 0.0655
4.249 0.0664
4.278 0.0405
4.312 0.0422
4.345 0.0388
4.375 0.0215
4.404 0.0353
4.438 0.0353
4.467 0.0155
4.501 0.0155
4.531 0.0155
4.564 0.0155
4.594 0.0060
4.619 0.0224
4.648 0.0181
4.682 0.0190
4.711 0.0181
4.732 0.0181
4.762 0.0319
4.795 0.0276
4.825 0.0379
4.858 0.0319
4.888 0.0276
4.921 0.0259
4.951 0.0284
4.985 0.0207
5.018 0.0241
5.048 0.0138
5.077 0.0121
5.111 0.0095
5.140 0.0086
5.174 0.0060
5.203 0.0112
5.237 0.0138
5.266 0.0121
5.300 0.0129
5.329 0.0103
5.363 0.0215
5.392 0.0164
5.426 0.0129
5.455 0.0181
5.489 0.0164
5.518 0.0103
5.552 0.0112
5.581 0.0069
5.615 0.0121
5.644 0.0103
5.678 0.0112
5.708 0.0086
5.741 0.0052
5.771 0.0086
5.804 0.0078
5.825 0.0181
5.859 0.0034
5.888 0.0060
5.922 0.0043
5.951 0.0034
5.985 0.0026
6.014 0.0000
6.044 0.0017
6.077 -0.0043
6.107 0.0009
6.140 0.0017
6.170 0.0034
6.204 0.0000
6.237 0.0034
6.267 0.0034
6.296 0.0043
6.330 0.0000
6.363 -0.0017
6.393 -0.0009
6.422 0.0017
6.456 0.0009
6.485 0.0043
6.519 0.0000
6.548 -0.0017
6.582 0.0000
6.611 -0.0009
6.645 0.0069
6.674 0.0009
6.708 -0.0017
6.737 0.0009
6.771 0.0000
6.800 0.0034
6.834 0.0052
6.864 0.0103
6.897 0.0009
6.927 0.0009
6.960 0.0009
7.002 0.0034
7.036 0.0026
7.065 0.0034
7.099 0.0034
7.128 0.0026
7.162 0.0017
7.191 -0.0043
7.225 0.0069
7.254 0.0052
7.288 0.0009
7.317 -0.0043
7.351 0.0017
7.380 0.0043
7.422 0.0052
7.464 -0.0017
};
\addplot[th, forget plot] table {
1.403 0.0198
1.475 0.0259
1.559 0.0319
1.622 0.0388
1.685 0.0457
1.72 0.0485
1.748 0.0495
1.77 0.0489
1.79 0.0474
1.82 0.0420
1.853 0.0353
1.885 0.0300
1.916 0.0250
1.96 0.0210
2.00 0.0172
2.084 0.0121
2.21 0.0078
2.336 0.0043
2.504 0.0017
2.673 0.0005
2.84 0
4.05 0
4.08 0.0005
4.10 0.002
4.12 0.010
4.14 0.030
4.16 0.065
4.18 0.110
4.20 0.150
4.22 0.200
4.26 0.350
4.30 0.220
4.32 0.160
4.34 0.110
4.36 0.070
4.38 0.040
4.40 0.020
4.42 0.009
4.44 0.003
4.46 0.0012
4.52 0.0005
4.72 0.0008
4.774 0.0026
4.81 0.0060
4.837 0.0112
4.87 0.0170
4.913 0.0198
4.95 0.0160
4.985 0.0112
5.02 0.0075
5.048 0.0052
5.09 0.0030
5.132 0.0017
5.20 0.0005
5.25 0.0009
5.29 0.0030
5.33 0.0070
5.363 0.0100
5.405 0.0164
5.44 0.0200
5.468 0.0207
5.49 0.0190
5.52 0.0140
5.55 0.0075
5.58 0.0030
5.62 0.0008
5.70 0
5.90 0.0005
5.97 0.0015
6.03 0.0040
6.06 0.0055
6.099 0.0064
6.13 0.0055
6.16 0.0035
6.20 0.0010
6.25 0.0003
6.35 0
6.50 0.0003
6.624 0.0009
6.75 0.0003
7.00 0.0003
7.24 0.0008
7.50 0.0003
};
\end{axis}
\begin{axis}[overax, rightx, at={(309.5pt,-351pt)}, anchor=north west]
\end{axis}
%%%%%%%%%%%%%%%%%%%% letters and side labels
\begin{scope}[every node/.style={anchor=base west, inner sep=0pt, font=\fontsize{15}{15}\selectfont\bfseries}]
\node at (63.3pt,-17.5pt) {a};
\node at (317pt,-17.5pt) {b};
\node at (64pt,-191.5pt) {c};
\node at (316.5pt,-191.5pt) {d};
\node at (64pt,-367pt) {e};
\node at (317.5pt,-366.5pt) {f};
\end{scope}
\node[rotate=90, inner sep=0pt, font=\fontsize{12.5}{14}\selectfont] at (11.5pt,-263.9pt) {Normalized BLS counts};
\node[rotate=90, inner sep=0pt, font=\fontsize{12.5}{14}\selectfont] at (601.5pt,-263.9pt) {Normalized calculated intensity};
\end{tikzpicture}
\end{document}
